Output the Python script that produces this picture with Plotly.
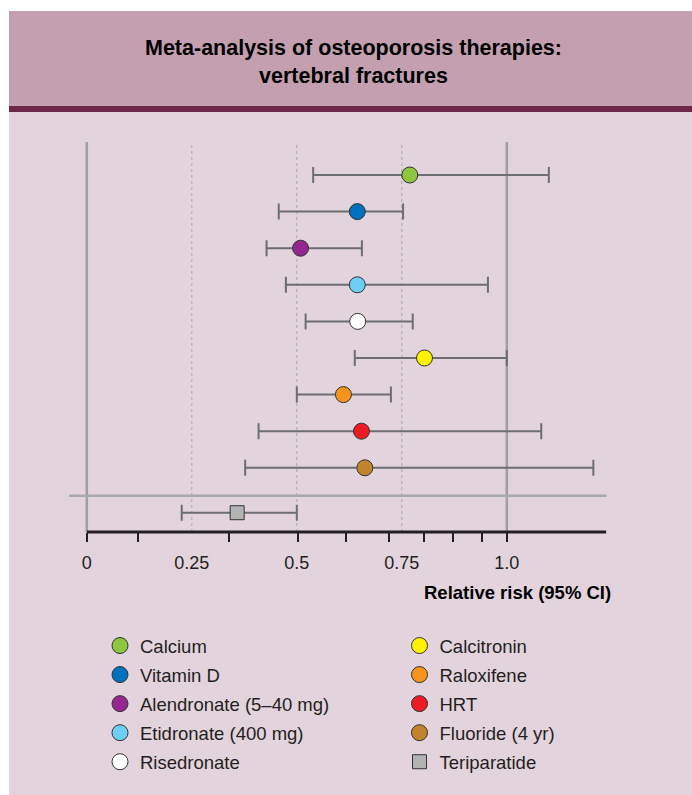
import plotly.graph_objects as go

# Relative risk of vertebral fracture (point estimate and 95% CI) by therapy
therapies = [
    "Calcium", "Vitamin D", "Alendronate (5–40 mg)", "Etidronate (400 mg)",
    "Risedronate", "Calcitronin", "Raloxifene", "HRT", "Fluoride (4 yr)",
    "Teriparatide",
]
relative_risk = [0.769, 0.644, 0.509, 0.644, 0.645, 0.804, 0.611, 0.654, 0.662, 0.358]
ci_lower = [0.539, 0.457, 0.428, 0.474, 0.521, 0.638, 0.500, 0.409, 0.377, 0.226]
ci_upper = [1.100, 0.753, 0.655, 0.955, 0.776, 1.000, 0.724, 1.082, 1.206, 0.500]

colors = ["#8dc63f", "#0071bc", "#93278f", "#6dcff6", "#ffffff",
          "#fff200", "#f7941d", "#ed1c24", "#c1862d", "#b3b3b3"]
symbols = ["circle"] * 9 + ["square"]
legend_column = ["legend"] * 5 + ["legend2"] * 5

tick_values = [0, 0.25, 0.5, 0.75, 1.0]
tick_labels = ["0", "0.25", "0.5", "0.75", "1.0"]
tick_marks = [0, 0.122, 0.338, 0.503, 0.618, 0.719, 0.802, 0.873, 0.94, 1.0]
dashed_refs = [0.25, 0.5, 0.75]
solid_refs = [0, 1.0]

W, H = 692, 795
FONT = "Liberation Sans, Arial, Helvetica, sans-serif"
INK = "#231f20"
GREY = "#6d6e71"

# row layout: nine therapies evenly spaced, teriparatide set apart below a rule
row_gap = 1.227
rows = list(range(9)) + [8 + row_gap]
separator_row = 8.762
x_range = [-0.0424, 1.2371]
y_range = [9.754, -0.9016]

fig = go.Figure()
for i, name in enumerate(therapies):
    fig.add_trace(go.Scatter(
        x=[relative_risk[i]], y=[rows[i]],
        mode="markers", name=name,
        legend=legend_column[i], legendgroup=name,
        marker=dict(color=colors[i], symbol=symbols[i],
                    size=16 if symbols[i] == "circle" else 14,
                    line=dict(color="#333333", width=1)),
        error_x=dict(type="data", symmetric=False,
                     array=[ci_upper[i] - relative_risk[i]],
                     arrayminus=[relative_risk[i] - ci_lower[i]],
                     color=GREY, thickness=2, width=8),
        hoverinfo="skip",
    ))


def px_y(p):
    return 1 - p / H


shapes = [
    # page panels
    dict(type="rect", xref="paper", yref="paper", x0=9 / W, x1=1, y0=0, y1=px_y(11),
         fillcolor="#e3d3dc", line_width=0, layer="below"),
    dict(type="rect", xref="paper", yref="paper", x0=9 / W, x1=1, y0=px_y(106), y1=px_y(11),
         fillcolor="#c49fb0", line_width=0, layer="below"),
    dict(type="rect", xref="paper", yref="paper", x0=9 / W, x1=1, y0=px_y(112), y1=px_y(106),
         fillcolor="#6b2648", line_width=0, layer="below"),
]
for v in dashed_refs:
    shapes.append(dict(type="line", xref="x", yref="y domain", x0=v, x1=v, y0=0, y1=1,
                       line=dict(color="#a7a9ac", width=1, dash="3px,3px"), layer="below"))
for v in solid_refs:
    shapes.append(dict(type="line", xref="x", yref="y domain", x0=v, x1=v, y0=0, y1=1,
                       line=dict(color="#9d9fa2", width=2.5), layer="below"))
shapes.append(dict(type="line", xref="x domain", yref="y", x0=0, x1=1,
                   y0=separator_row, y1=separator_row,
                   line=dict(color="#a7a9ac", width=2.5), layer="below"))
shapes.append(dict(type="line", xref="x", yref="y domain", x0=0, x1=x_range[1], y0=0, y1=0,
                   line=dict(color=INK, width=3), layer="above"))

fig.update_layout(
    width=W, height=H,
    margin=dict(l=0, r=0, t=0, b=0),
    paper_bgcolor="#ffffff",
    plot_bgcolor="#ffffff",
    font=dict(family=FONT, color=INK, size=18),
    shapes=shapes,
    xaxis=dict(
        domain=[69 / W, 606.4 / W], range=x_range,
        showgrid=False, zeroline=False, showline=False,
        tickmode="array", tickvals=tick_values, ticktext=tick_labels,
        ticks="outside", ticklen=14, tickcolor="rgba(0,0,0,0)",
        tickfont=dict(size=18, color=INK, family=FONT),
        minor=dict(tickmode="array", tickvals=tick_marks, ticks="outside",
                   ticklen=9, tickwidth=1.5, tickcolor=INK, showgrid=False),
    ),
    yaxis=dict(
        domain=[px_y(532), px_y(142)], range=y_range,
        showgrid=False, zeroline=False, showline=False,
        showticklabels=False, ticks="",
    ),
    legend=dict(
        x=100 / W, xanchor="left", y=px_y(627), yanchor="top",
        traceorder="grouped", tracegroupgap=2.0,
        bgcolor="rgba(0,0,0,0)", font=dict(size=18.5, color=INK, family=FONT),
    ),
    legend2=dict(
        x=399.5 / W, xanchor="left", y=px_y(627), yanchor="top",
        traceorder="grouped", tracegroupgap=2.0,
        bgcolor="rgba(0,0,0,0)", font=dict(size=18.5, color=INK, family=FONT),
    ),
    annotations=[
        dict(text="<b>Meta-analysis of osteoporosis therapies:<br>vertebral fractures</b>",
             xref="paper", yref="paper", x=353 / W, y=px_y(62),
             xanchor="center", yanchor="middle", showarrow=False,
             font=dict(size=21.5, color="#000000", family=FONT)),
        dict(text="<b>Relative risk (95% CI)</b>",
             xref="paper", yref="paper", x=613 / W, y=px_y(592),
             xanchor="right", yanchor="middle", showarrow=False,
             font=dict(size=18.5, color="#000000", family=FONT)),
    ],
)

fig.write_html("out.html")
